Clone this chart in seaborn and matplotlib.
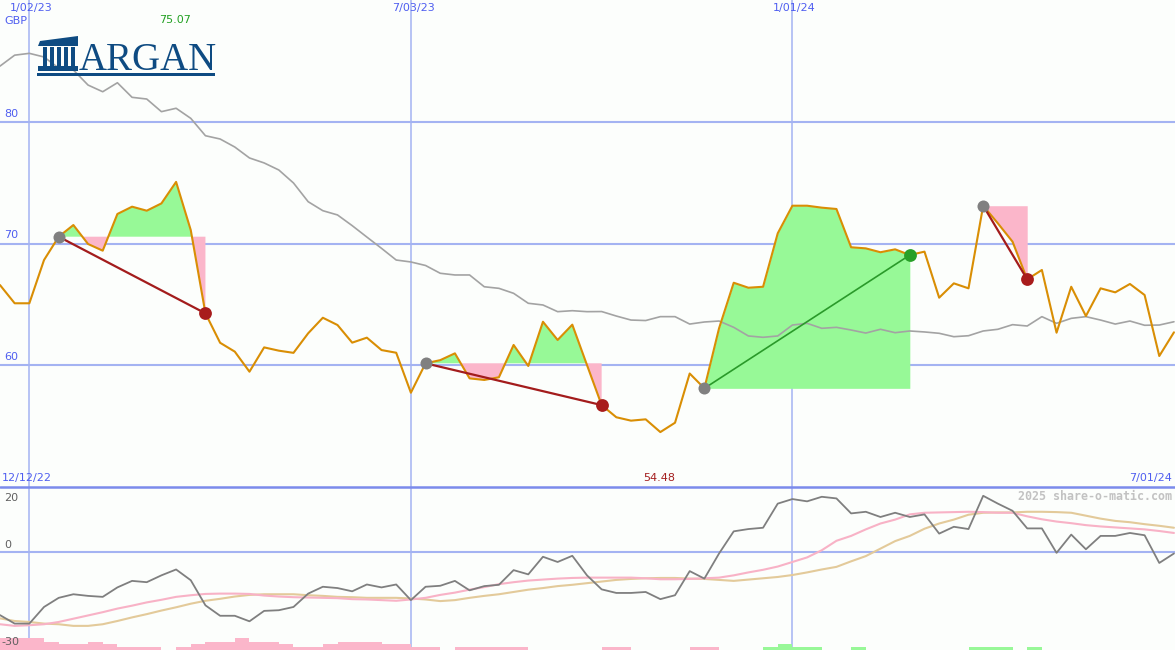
import numpy as np
import pandas as pd
import matplotlib
matplotlib.use("Agg")
import matplotlib.pyplot as plt
import matplotlib.dates as mdates
import matplotlib.transforms as mtransforms
from matplotlib.patches import Rectangle, Polygon
import seaborn as sns

# weekly closes (GBP), from 19 Dec 2022
start_date = "2022-12-19"
price = [66.58, 65.08, 65.08, 68.64, 70.56, 71.52, 69.96, 69.41, 72.43, 73.03,
         72.70, 73.30, 75.07, 71.10, 64.25, 61.83, 61.10, 59.45, 61.45, 61.18,
         61.00, 62.61, 63.89, 63.29, 61.84, 62.25, 61.23, 61.01, 57.72, 60.14,
         60.40, 60.96, 58.90, 58.77, 58.99, 61.65, 59.92, 63.56, 62.06, 63.32,
         60.00, 56.70, 55.70, 55.42, 55.53, 54.48, 55.25, 59.30, 58.08, 63.02,
         66.77, 66.36, 66.44, 70.84, 73.11, 73.11, 72.95, 72.84, 69.69, 69.60,
         69.28, 69.52, 69.05, 69.33, 65.54, 66.72, 66.31, 73.11, 71.66, 70.15,
         67.05, 67.82, 62.66, 66.44, 64.03, 66.31, 65.98, 66.67, 65.76, 60.74,
         62.69]
moving_avg = [84.60, 85.50, 85.65, 85.35, 84.44, 84.28, 83.04, 82.49, 83.23, 82.03,
              81.89, 80.85, 81.13, 80.30, 78.87, 78.60, 77.94, 77.04, 76.63, 76.05,
              74.98, 73.44, 72.70, 72.35, 71.47, 70.53, 69.60, 68.64, 68.48, 68.19,
              67.55, 67.41, 67.41, 66.44, 66.31, 65.90, 65.08, 64.94, 64.39, 64.47,
              64.39, 64.40, 64.03, 63.70, 63.66, 63.98, 63.98, 63.37, 63.54, 63.62,
              63.10, 62.39, 62.28, 62.39, 63.29, 63.43, 63.02, 63.10, 62.88, 62.63,
              62.94, 62.66, 62.80, 62.72, 62.61, 62.33, 62.41, 62.80, 62.94, 63.32,
              63.21, 63.98, 63.43, 63.84, 63.98, 63.70, 63.37, 63.62, 63.27, 63.29,
              63.56]
# lower panel
oscillator = [-19.3, -21.9, -21.9, -16.8, -14.0, -12.9, -13.4, -13.7, -10.8, -8.8,
              -9.2, -7.1, -5.3, -8.6, -16.3, -19.5, -19.5, -21.2, -18.0, -17.8,
              -16.8, -12.7, -10.6, -11.0, -12.0, -9.9, -10.8, -9.9, -14.7, -10.6,
              -10.3, -8.8, -11.7, -10.4, -10.0, -5.5, -6.8, -1.4, -3.0, -1.1,
              -7.1, -11.4, -12.5, -12.5, -12.2, -14.4, -13.2, -5.8, -8.1, -0.4,
              6.4, 7.1, 7.5, 14.9, 16.3, 15.6, 17.0, 16.5, 11.9, 12.4,
              10.8, 12.1, 10.8, 11.6, 5.7, 7.8, 7.1, 17.3, 14.9, 12.7,
              7.3, 7.3, -0.2, 5.4, 0.9, 5.0, 5.0, 5.9, 5.2, -3.3,
              -0.4]
signal_fast = [-22.1, -22.6, -22.4, -22.1, -21.4, -20.4, -19.4, -18.4, -17.3, -16.4,
               -15.4, -14.6, -13.7, -13.2, -12.8, -12.7, -12.7, -12.8, -13.3, -13.6,
               -13.8, -13.9, -14.0, -14.1, -14.4, -14.5, -14.7, -14.9, -14.5, -14.0,
               -13.1, -12.4, -11.5, -10.7, -9.8, -9.2, -8.7, -8.4, -8.1, -7.9,
               -7.8, -7.8, -7.8, -7.8, -8.0, -8.3, -8.3, -8.2, -8.0, -7.8,
               -7.1, -6.2, -5.4, -4.4, -3.0, -1.6, 0.6, 3.5, 5.0, 7.0,
               8.8, 10.0, 11.6, 12.1, 12.2, 12.3, 12.4, 12.3, 12.1, 12.1,
               11.0, 10.1, 9.4, 8.9, 8.3, 7.9, 7.6, 7.3, 7.0, 6.5,
               5.9]
signal_slow = [-20.3, -21.1, -21.4, -21.9, -22.1, -22.6, -22.6, -22.1, -21.1, -20.0,
               -19.0, -17.9, -16.9, -15.8, -14.9, -14.3, -13.6, -13.1, -12.9, -12.9,
               -12.9, -13.2, -13.4, -13.7, -13.8, -14.0, -14.0, -14.0, -14.2, -14.5,
               -15.0, -14.7, -14.0, -13.4, -12.9, -12.2, -11.5, -11.0, -10.4, -10.0,
               -9.5, -9.0, -8.5, -8.2, -8.0, -7.9, -7.9, -8.1, -8.2, -8.5,
               -8.8, -8.4, -8.0, -7.6, -7.0, -6.2, -5.3, -4.5, -2.8, -1.2,
               1.1, 3.4, 5.0, 7.2, 8.8, 10.0, 11.5, 12.1, 12.2, 12.2,
               12.4, 12.4, 12.3, 12.1, 11.2, 10.3, 9.6, 9.2, 8.6, 8.1,
               7.5]
momentum = [-3.6, -3.6, -3.6, -2.6, -1.8, -1.8, -2.6, -1.8, -1.0, -1.0,
            -1.0, 0, -1.0, -1.8, -2.6, -2.6, -3.6, -2.6, -2.6, -1.8,
            -1.0, -1.0, -1.8, -2.6, -2.6, -2.6, -1.8, -1.8, -1.0, -1.0,
            0, -1.0, -1.0, -1.0, -1.0, -1.0, 0, 0, 0, 0,
            0, -1.0, -1.0, 0, 0, 0, 0, -1.0, -1.0, 0,
            0, 0, 1.0, 1.8, 1.0, 1.0, 0, 0, 1.0, 0,
            0, 0, 0, 0, 0, 0, 1.0, 1.0, 1.0, 0,
            1.0, 0, 0, 0, 0, 0, 0, 0, 0, 0,
            0]
# (buy week, sell week)
trades = [(4, 14), (29, 41), (48, 62), (67, 70)]
grid_dates = ["2023-01-02", "2023-07-03", "2024-01-01"]
price_grid = [60, 70, 80]

dates = pd.date_range(start_date, periods=len(price), freq="7D")
df = pd.DataFrame({"x": mdates.date2num(dates), "price": price, "ma": moving_avg,
                   "osc": oscillator, "fast": signal_fast, "slow": signal_slow,
                   "mom": momentum})

BG = "#fcfefc"
GRID = "#a4b3f2"
LBL = "#4f5ef0"
GREEN_FILL = "#97f997"
PINK_FILL = "#fbb6ca"
FS = 8

sns.set_style("white")
plt.rcParams["font.family"] = ["DejaVu Sans"]

fig = plt.figure(figsize=(11.75, 6.5), dpi=100, facecolor=BG)
ax = fig.add_axes([0, 163 / 650, 1, 487 / 650], facecolor=BG)
ax2 = fig.add_axes([0, 0, 1, 163 / 650], facecolor=BG)

x0 = df["x"].iloc[0]
x1 = df["x"].iloc[-1] + 0.5
for a in (ax, ax2):
    a.set_xlim(x0, x1)
    for s in a.spines.values():
        s.set_visible(False)
    a.set_xticks([])
    a.set_yticks([])
    for d in grid_dates:
        a.axvline(mdates.date2num(pd.Timestamp(d)), color=GRID, lw=1.1, zorder=0.5)
ax.set_ylim(49.96, 90.04)
ax2.set_ylim(-30, 20)

# main panel
left1 = mtransforms.blended_transform_factory(ax.transAxes, ax.transData)
for g in price_grid:
    ax.axhline(g, color=GRID, lw=1.5, zorder=0.6)
    ax.text(4 / 1175, g + 0.25, str(g), color=LBL, fontsize=FS, va="bottom",
            transform=left1)

for b, s in trades:
    seg = df.iloc[b:s + 1]
    base = price[b]
    xs = seg["x"].values
    ys = seg["price"].values
    ax.fill_between(xs, ys, base, where=ys >= base, interpolate=True,
                    color=GREEN_FILL, lw=0, zorder=1)
    ax.fill_between(xs, ys, base, where=ys <= base, interpolate=True,
                    color=PINK_FILL, lw=0, zorder=1)

sns.lineplot(data=df, x="x", y="ma", ax=ax, color="#a3a3a3", lw=1.2, zorder=2)
sns.lineplot(data=df, x="x", y="price", ax=ax, color="#d98e04", lw=1.5, zorder=3)

for b, s in trades:
    win = price[s] > price[b]
    lc = "#2a9a2a" if win else "#a31c1c"
    ax.plot([df["x"][b], df["x"][s]], [price[b], price[s]], color=lc,
            lw=1.2 if win else 1.6, zorder=4)
    ax.scatter([df["x"][b]], [price[b]], s=75, color="#808080", lw=0, zorder=5)
    ax.scatter([df["x"][s]], [price[s]], s=85, color="#28a028" if win else "#a81c1c",
               lw=0, zorder=5)
ax.set_xlabel("")
ax.set_ylabel("")

fmt = lambda d: f"{d.month}/{d.day:02d}/{d:%y}"
top = mtransforms.blended_transform_factory(ax.transData, ax.transAxes)
for d in grid_dates:
    t = pd.Timestamp(d)
    ax.text(mdates.date2num(t) + 1, 1 - 3 / 487, fmt(t), color=LBL, fontsize=FS,
            ha="center", va="top", transform=top)
ax.text(4 / 1175, 1 - 16 / 487, "GBP", color=LBL, fontsize=FS, va="top",
        transform=ax.transAxes)

imax = int(np.argmax(price))
imin = int(np.argmin(price))
ax.text(df["x"][imax] - 0.4, 1 - 15 / 487, f"{price[imax]:.2f}", color="#22a022",
        fontsize=FS, ha="center", va="top", transform=top)
ax.text(df["x"][imin] - 0.4, 4 / 487, f"{price[imin]:.2f}", color="#a52020",
        fontsize=FS, ha="center", va="bottom", transform=top)
ax.text(2 / 1175, 4 / 487, "12/12/22", color=LBL, fontsize=FS, va="bottom",
        transform=ax.transAxes)
ax.text(1 - 3 / 1175, 4 / 487, fmt(dates[-1]), color=LBL, fontsize=FS,
        ha="right", va="bottom", transform=ax.transAxes)

# logo
def P(px, py):
    return (px / 1175, 1 - py / 487)

logo_c = "#0e4b82"
ax.text(*P(79, 70), "ARGAN", fontfamily="Liberation Serif", fontsize=28,
        color=logo_c, ha="left", va="baseline", transform=ax.transAxes, zorder=6)
ax.add_patch(Polygon([P(38, 46), P(40, 41), P(78, 36), P(78, 46)], closed=True,
                     transform=ax.transAxes, color=logo_c, lw=0, zorder=6))
for cx in [43, 50, 57, 64, 71]:
    ax.add_patch(Rectangle(P(cx, 66), 4 / 1175, 19 / 487, transform=ax.transAxes,
                           color=logo_c, lw=0, zorder=6))
ax.add_patch(Rectangle(P(38, 71), 40 / 1175, 5 / 487, transform=ax.transAxes,
                       color=logo_c, lw=0, zorder=6))
ax.add_patch(Rectangle(P(37, 76), 178 / 1175, 2.5 / 487, transform=ax.transAxes,
                       color=logo_c, lw=0, zorder=6))

# lower panel
ax2.axhline(0, color=GRID, lw=1.5, zorder=0.6)
ax2.axhline(20, color="#7b8bec", lw=1.8, zorder=0.7, clip_on=False)
bar_cols = ["#98f898" if v > 0 else "#fbb6ca" for v in momentum]
ax2.bar(df["x"], np.abs(momentum), width=7, bottom=-30, align="edge",
        color=bar_cols, lw=0, zorder=1)
sns.lineplot(data=df, x="x", y="slow", ax=ax2, color="#e3ca9a", lw=1.5, zorder=2)
sns.lineplot(data=df, x="x", y="fast", ax=ax2, color="#f8b2c6", lw=1.5, zorder=2)
sns.lineplot(data=df, x="x", y="osc", ax=ax2, color="#7f7f7f", lw=1.3, zorder=3)
ax2.set_xlabel("")
ax2.set_ylabel("")

left2 = mtransforms.blended_transform_factory(ax2.transAxes, ax2.transData)
ax2.text(4 / 1175, 18.3, "20", color="#606060", fontsize=FS, va="top", transform=left2)
ax2.text(4 / 1175, 0.8, "0", color="#606060", fontsize=FS, va="bottom", transform=left2)
ax2.text(1 / 1175, -29.0, "-30", color="#606060", fontsize=FS, va="bottom",
         transform=left2, zorder=4)
ax2.text(1 - 3 / 1175, 19.2, "2025 share-o-matic.com", color="#c2c2c2",
         fontsize=8.4, fontfamily="DejaVu Sans Mono", fontweight="bold",
         ha="right", va="top", transform=left2)

fig.savefig("out.png", dpi=100, facecolor=BG)
